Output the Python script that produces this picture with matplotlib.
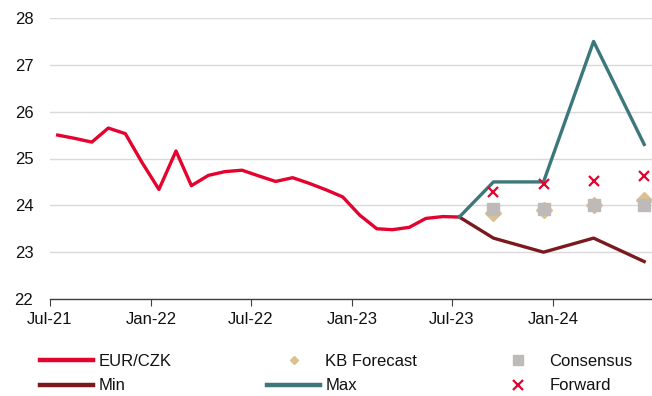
import matplotlib
matplotlib.use("Agg")
import matplotlib.pyplot as plt
from matplotlib.lines import Line2D
import pandas as pd

plt.rcParams["font.family"] = ["Liberation Sans", "DejaVu Sans"]

# Monthly EUR/CZK history (monthly averages, plotted mid-month)
hist_months = pd.date_range("2021-07-01", "2023-07-01", freq="MS")
eurczk = [25.50, 25.43, 25.35, 25.65, 25.53, 24.92, 24.34, 25.16, 24.42,
          24.64, 24.72, 24.75, 24.63, 24.51, 24.59, 24.47, 24.33, 24.18,
          23.79, 23.50, 23.48, 23.53, 23.72, 23.76, 23.75]

# Quarterly outlook
fc_months = pd.to_datetime(["2023-09-01", "2023-12-01", "2024-03-01", "2024-06-01"])
kb_forecast = [23.83, 23.90, 24.00, 24.12]
consensus = [23.92, 23.92, 24.00, 24.00]
forward = [24.28, 24.45, 24.53, 24.62]
range_start = 23.75
min_vals = [23.30, 23.00, 23.30, 22.80]
max_vals = [24.50, 24.50, 27.50, 25.30]

x_ticks = pd.date_range("2021-07-01", "2024-01-01", freq="6MS")
x_tick_labels = ["Jul-21", "Jan-22", "Jul-22", "Jan-23", "Jul-23", "Jan-24"]

mid = pd.Timedelta(days=14)
x_hist = hist_months + mid
x_fc = fc_months + mid
x_range = [x_hist[-1]] + list(x_fc)

RED = "#E4032E"
MAROON = "#7A1A1E"
TEAL = "#3C777B"
TAN = "#D9C28F"
GREY = "#BEBABA"

fig = plt.figure(figsize=(6.52, 3.96), dpi=100)
ax = fig.add_axes([50 / 652, 1 - 299 / 396, 603 / 652, 281 / 396])

ax.plot(x_hist, eurczk, color=RED, lw=2.4, zorder=3)
ax.plot(x_range, [range_start] + min_vals, color=MAROON, lw=2.4, zorder=3)
ax.plot(x_range, [range_start] + max_vals, color=TEAL, lw=2.4, zorder=3)
ax.plot(x_fc, kb_forecast, ls="none", marker="D", ms=8, color=TAN, zorder=4)
ax.plot(x_fc, consensus, ls="none", marker="s", ms=8, color=GREY, zorder=5)
ax.plot(x_fc, forward, ls="none", marker="x", ms=7.5, mew=1.6, color=RED, zorder=6)

ax.set_ylim(22, 28)
ax.set_yticks(range(22, 29))
ax.set_xlim(pd.Timestamp("2021-07-01"), pd.Timestamp("2024-07-01"))
ax.set_xticks(x_ticks)
ax.set_xticklabels(x_tick_labels)

ax.grid(axis="y", color="#D9D9D9", lw=1.0)
ax.set_axisbelow(True)
for side in ("left", "right", "top"):
    ax.spines[side].set_visible(False)
ax.spines["bottom"].set_color("#404040")
ax.spines["bottom"].set_linewidth(1.0)
ax.tick_params(axis="y", length=0, pad=12, labelsize=12, labelcolor="#111111")
ax.tick_params(axis="x", length=5, direction="out", color="#404040",
               pad=4, labelsize=12, labelcolor="#111111")

# Legend laid out as three equal-width columns
columns = [
    ([Line2D([], [], color=RED, lw=3.2), Line2D([], [], color=MAROON, lw=3.2)],
     ["EUR/CZK", "Min"], 40),
    ([Line2D([], [], ls="none", marker="D", ms=4.5, color=TAN),
      Line2D([], [], color=TEAL, lw=3.2)],
     ["KB Forecast", "Max"], 267),
    ([Line2D([], [], ls="none", marker="s", ms=7.5, color=GREY),
      Line2D([], [], ls="none", marker="x", ms=7.5, mew=1.6, color=RED)],
     ["Consensus", "Forward"], 491),
]
for handles, labels, left in columns:
    leg = fig.legend(handles, labels, loc="upper left",
                     bbox_to_anchor=(left / 652, 1 - 354 / 396),
                     frameon=False, fontsize=12, borderpad=0, borderaxespad=0,
                     handlelength=3.2, handletextpad=0.3, labelspacing=0.57)
    for t in leg.get_texts():
        t.set_color("#111111")

fig.savefig("out.png", dpi=100)
